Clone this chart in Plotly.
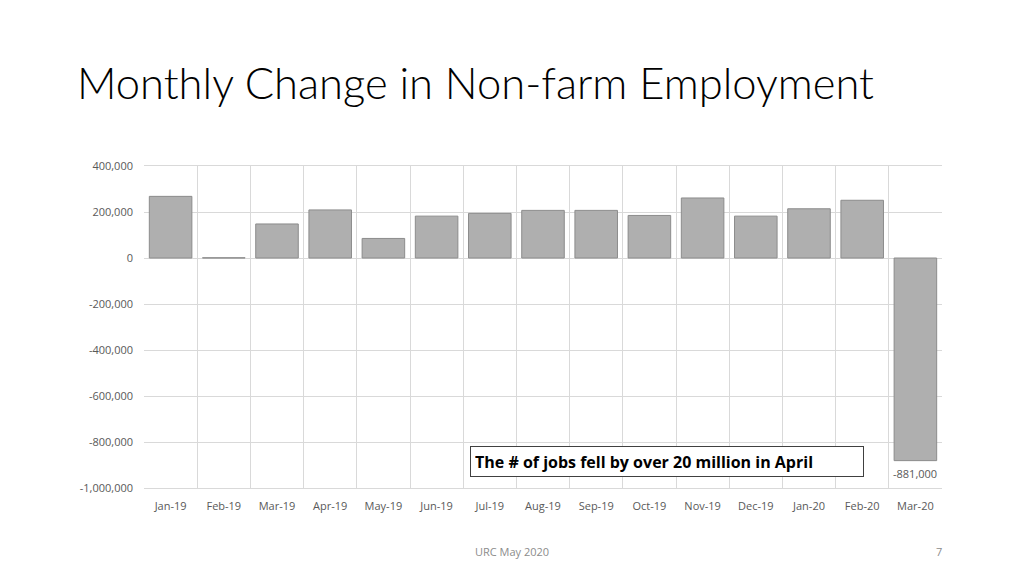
import plotly.graph_objects as go

months = ['Jan-19', 'Feb-19', 'Mar-19', 'Apr-19', 'May-19', 'Jun-19', 'Jul-19', 'Aug-19',
          'Sep-19', 'Oct-19', 'Nov-19', 'Dec-19', 'Jan-20', 'Feb-20', 'Mar-20']
job_change = [268000, 1000, 148000, 209000, 85000, 182000, 194000, 207000,
              207000, 185000, 261000, 182000, 214000, 251000, -881000]
y_ticks = [400000, 200000, 0, -200000, -400000, -600000, -800000, -1000000]

title_text = 'Monthly Change in Non-farm Employment'
note_text = 'The # of jobs fell by over 20 million in April'
footer_text = 'URC May 2020'
page_no = '7'

grid_col = '#d9d9d9'
tick_col = '#595959'

fig = go.Figure()
fig.add_trace(go.Bar(
    x=months,
    y=job_change,
    marker=dict(color='#afafaf', line=dict(color='#8c8c8c', width=1)),
    showlegend=False
))

# label on the last bar only
fig.add_annotation(
    x=months[-1], y=job_change[-1],
    text=f'{job_change[-1]:,}',
    showarrow=False, yanchor='top', yshift=-3,
    font=dict(size=11, color=tick_col)
)

fig.add_annotation(
    xref='paper', yref='paper', x=0.4085, y=0.082,
    xanchor='left', yanchor='middle', align='left',
    text=f'<b>{note_text}</b>',
    showarrow=False, width=384, height=21,
    bordercolor='#404040', borderwidth=1, borderpad=4,
    bgcolor='white',
    font=dict(size=16, color='black', family='Open Sans')
)

fig.add_annotation(
    xref='paper', yref='paper', x=-0.086, y=1.261,
    xanchor='left', yanchor='middle',
    text=title_text, showarrow=False,
    font=dict(size=43.5, color='black', family='Lato', weight=300)
)

fig.add_annotation(
    xref='paper', yref='paper', x=0.461, y=-0.196,
    xanchor='center', yanchor='middle',
    text=footer_text, showarrow=False,
    font=dict(size=11, color='#8c8c8c')
)
fig.add_annotation(
    xref='paper', yref='paper', x=1.0025, y=-0.196,
    xanchor='right', yanchor='middle',
    text=page_no, showarrow=False,
    font=dict(size=11, color='#8c8c8c')
)

fig.update_layout(
    width=1024,
    height=576,
    margin=dict(l=136, r=90, t=158, b=96),
    plot_bgcolor='white',
    paper_bgcolor='white',
    bargap=0.2,
    font=dict(family='Open Sans', color=tick_col, size=11),
    xaxis=dict(
        type='category',
        tickson='boundaries',
        showgrid=True, gridcolor=grid_col, gridwidth=1,
        showline=True, linecolor=grid_col, mirror=True,
        ticks='', ticklabelstandoff=8,
        tickfont=dict(size=11, color=tick_col)
    ),
    yaxis=dict(
        range=[-1000000, 400000],
        tickmode='array',
        tickvals=y_ticks,
        ticktext=[f'{v:,}' for v in y_ticks],
        showgrid=True, gridcolor=grid_col, gridwidth=1,
        zeroline=True, zerolinecolor=grid_col, zerolinewidth=1,
        showline=False,
        ticks='', ticklabelstandoff=10,
        tickfont=dict(size=11, color=tick_col)
    )
)

fig.write_html('out.html')
